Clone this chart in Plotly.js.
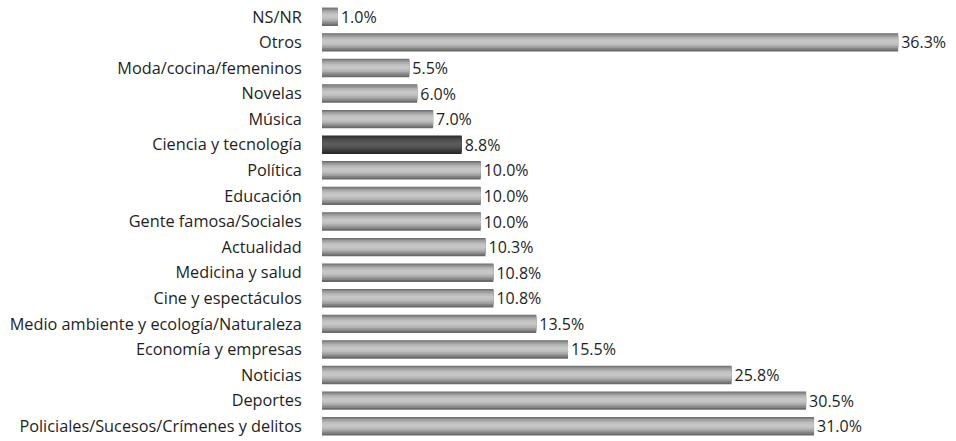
<!DOCTYPE html>
<html>
<head>
<meta charset="utf-8">
<script src="https://cdn.plot.ly/plotly-3.0.1.min.js"></script>
<style>html,body{margin:0;padding:0;background:#fff;}#chart{width:956px;height:441px;}</style>
</head>
<body>
<div id="chart"></div>
<script>
const categories = [
  "NS/NR",
  "Otros",
  "Moda/cocina/femeninos",
  "Novelas",
  "Música",
  "Ciencia y tecnología",
  "Política",
  "Educación",
  "Gente famosa/Sociales",
  "Actualidad",
  "Medicina y salud",
  "Cine y espectáculos",
  "Medio ambiente y ecología/Naturaleza",
  "Economía y empresas",
  "Noticias",
  "Deportes",
  "Policiales/Sucesos/Crímenes y delitos"
];
const values = [1.0, 36.3, 5.5, 6.0, 7.0, 8.8, 10.0, 10.0, 10.0, 10.3, 10.8, 10.8, 13.5, 15.5, 25.8, 30.5, 31.0];
const highlight = "Ciencia y tecnología";

// shading layers (outer -> inner) to imitate the cylindrical bars
const greyShades = ["#6a6a6a", "#858585", "#9c9c9c", "#b0b0b0", "#bdbdbd", "#c6c6c6"];
const darkShades = ["#2a2a2a", "#363636", "#424242", "#4c4c4c", "#545454", "#5a5a5a"];
const layerWidths = [0.72, 0.62, 0.50, 0.38, 0.26, 0.14];
const layerOffsets = [-0.36, -0.33, -0.28, -0.22, -0.16, -0.10];

const font = "Open Sans, sans-serif";
const traces = layerWidths.map((w, k) => {
  const t = {
    type: "bar",
    orientation: "h",
    y: categories,
    x: values,
    width: w,
    offset: layerOffsets[k],
    marker: {color: categories.map(c => c === highlight ? darkShades[k] : greyShades[k]), line: {width: 0}},
    hoverinfo: "none",
    cliponaxis: false
  };
  if (k === 0) {
    t.text = values.map(v => v.toFixed(1) + "%");
    t.textposition = "outside";
    t.constraintext = "none";
    t.textfont = {family: font, size: 16, color: "#1e1e1e"};
  }
  return t;
});

const layout = {
  width: 956, height: 441,
  margin: {l: 322, r: 15, t: 4, b: 2, pad: 0},
  paper_bgcolor: "#ffffff",
  plot_bgcolor: "#ffffff",
  showlegend: false,
  barmode: "overlay",
  xaxis: {range: [0, 39], visible: false, fixedrange: true},
  yaxis: {
    type: "category",
    categoryorder: "array",
    categoryarray: categories,
    range: [16.5, -0.5],
    showgrid: false, zeroline: false, showline: false,
    ticks: "outside", ticklen: 16, tickcolor: "rgba(0,0,0,0)",
    tickfont: {family: font, size: 16.3, color: "#1e1e1e"}
  }
};

Plotly.newPlot("chart", traces, layout, {displayModeBar: false, staticPlot: true});
</script>
</body>
</html>
